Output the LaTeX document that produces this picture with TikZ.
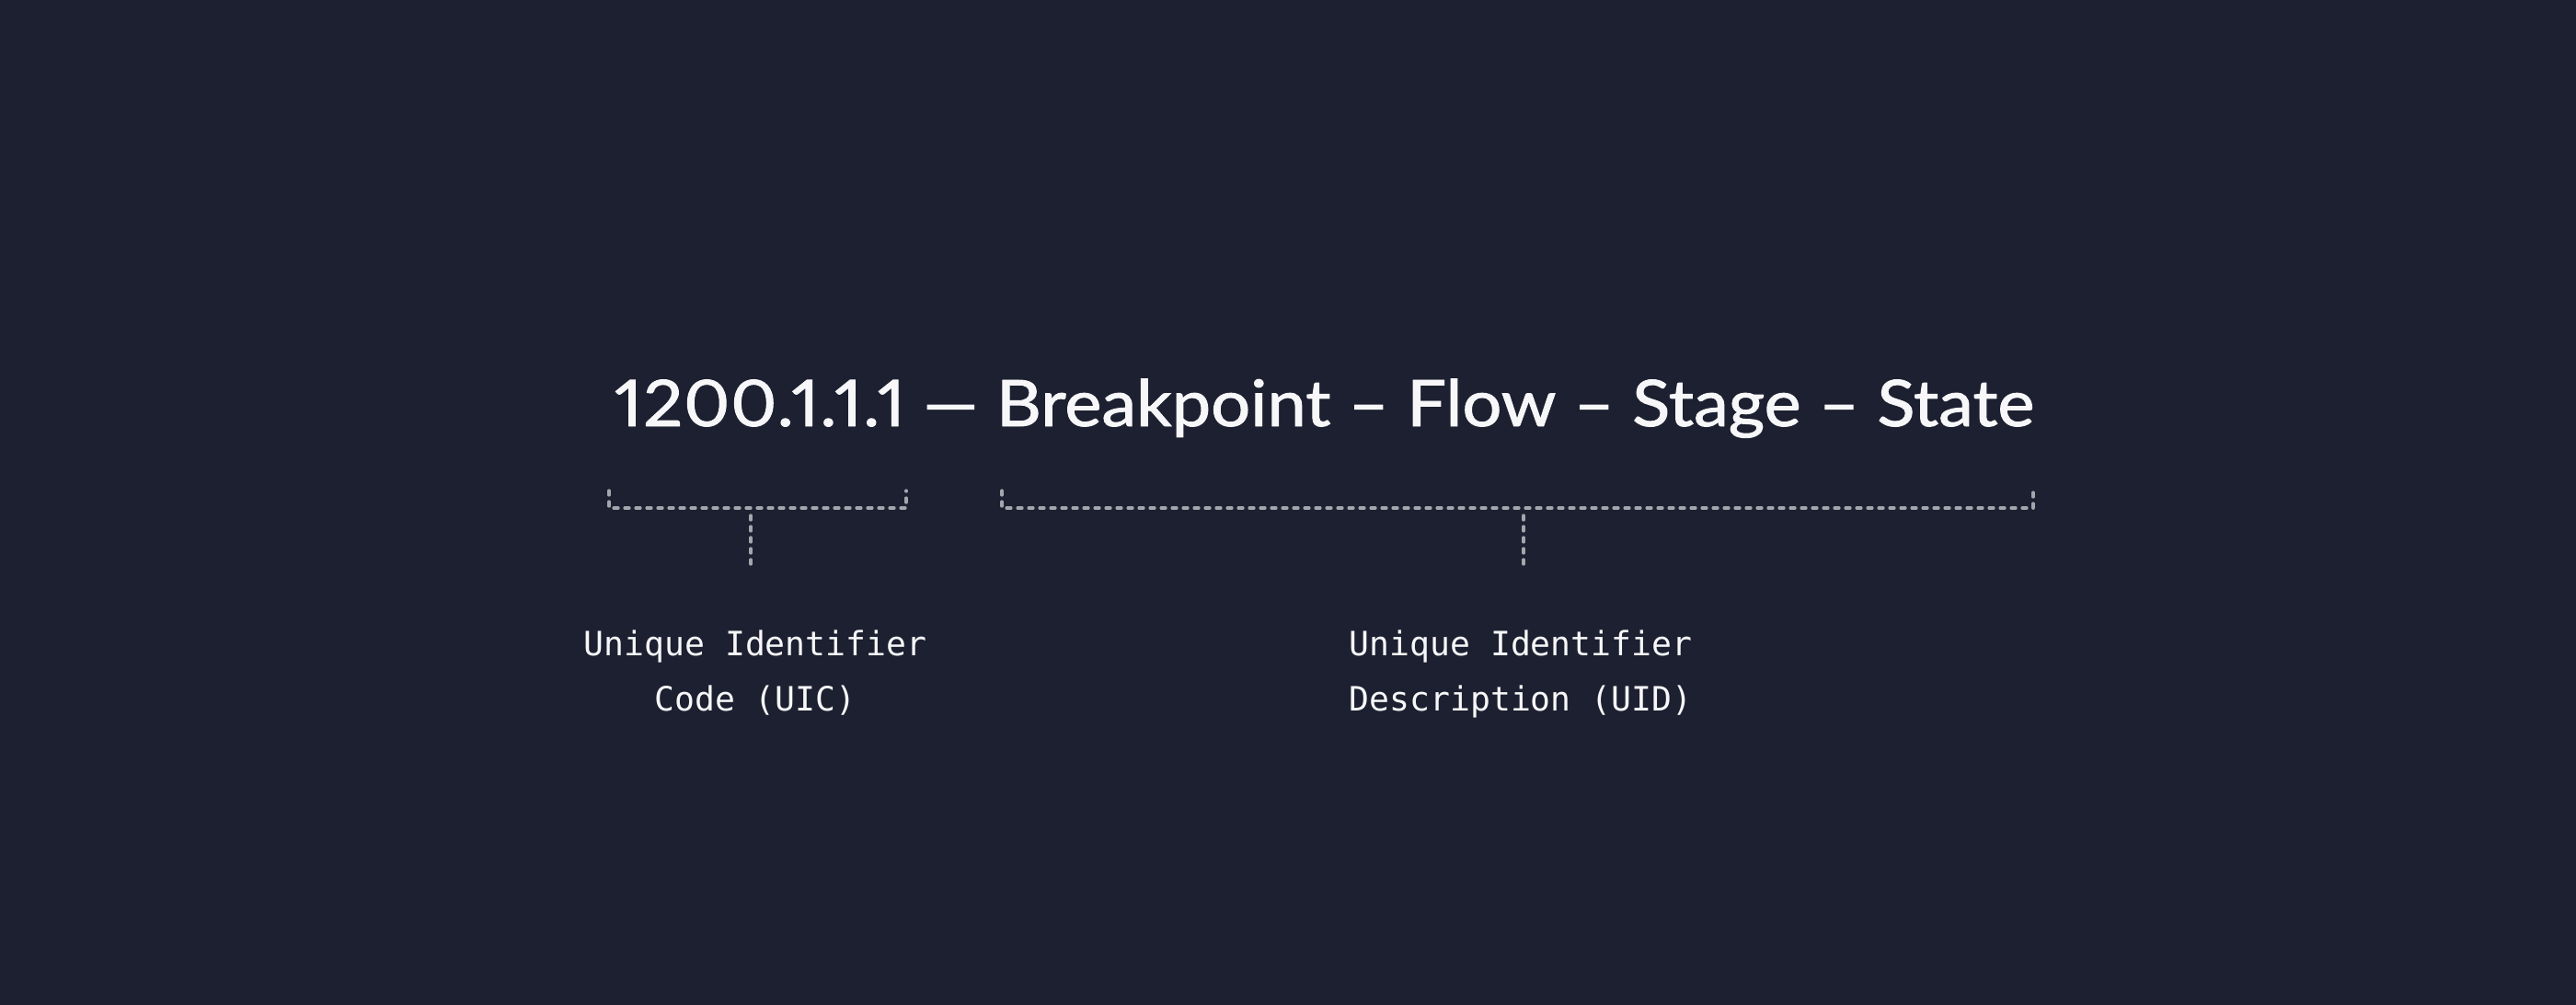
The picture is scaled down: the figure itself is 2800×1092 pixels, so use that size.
\documentclass[tikz,border=0pt]{standalone}
\usepackage{fontspec}
\newfontfamily\titlefont[FakeBold=1.3,Numbers=Proportional]{Lato}
\newfontfamily\labelfont{DejaVu Sans Mono}
\definecolor{bg}{HTML}{1C2030}
\definecolor{ink}{HTML}{F7F7F9}
\definecolor{dashgray}{HTML}{A4A6AD}
\newlength\titlew
\newcommand\titletext{{\addfontfeature{LetterSpace=1.5}1200.1.1.1} — Breakpoint – Flow – Stage – State}
\newcommand\titlebox{\titlefont\fontsize{34.9}{40}\selectfont\titletext}
\tikzset{
  bracketline/.style={draw=dashgray, line width=1.6pt, line cap=round, line join=round, dash pattern=on 2.5pt off 3.5pt},
  lbl/.style={inner sep=0pt, text=ink, font=\labelfont\fontsize{18.2}{30}\selectfont},
}
\begin{document}
\settowidth\titlew{\titlebox}%
\pgfmathsetmacro\tsx{771.5/\titlew}%
\begin{tikzpicture}[x=0.5pt,y=-0.5pt]
\fill[bg] (0,0) rectangle (2800,1092);
\useasboundingbox (0,0) rectangle (2800,1092);
% title
\node[anchor=base, inner sep=0pt, text=ink] (title) at (1439.5,463)
  {\scalebox{\tsx}[1]{\titlebox}};
% left bracket
\coordinate (lA) at (662,533);
\coordinate (lB) at (662,552);
\coordinate (lC) at (985,552);
\coordinate (lD) at (985,533);
\coordinate (lS) at (816,560);
\coordinate (lE) at (816,613);
\draw[bracketline] (lA) -- (lB) -- (lC) -- (lD);
\draw[bracketline] (lS) -- (lE);
% right bracket
\coordinate (rA) at (1089,533);
\coordinate (rB) at (1089,552);
\coordinate (rC) at (2210,552);
\coordinate (rD) at (2210,533);
\coordinate (rS) at (1656,560);
\coordinate (rE) at (1656,613);
\draw[bracketline] (rA) -- (rB) -- (rC) -- (rD);
\draw[bracketline] (rS) -- (rE);
% labels
\node[lbl, anchor=base] (uicA) at (821,712) {Unique Identifier};
\node[lbl, anchor=base] (uicB) at (821,772) {Code (UIC)};
\node[lbl, anchor=base] (uidA) at (1653,712) {Unique Identifier};
\node[lbl, anchor=base] (uidB) at (1653,772) {Description (UID)};
\end{tikzpicture}
\end{document}
